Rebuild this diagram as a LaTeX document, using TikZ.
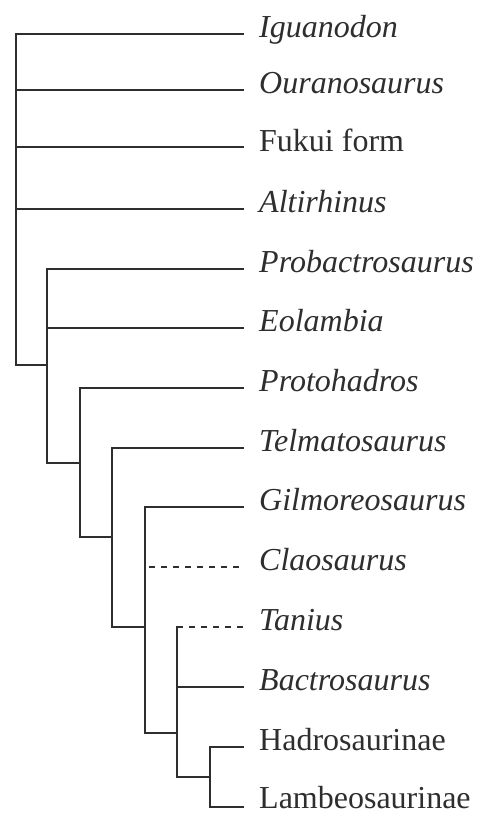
\documentclass[tikz,border=0pt]{standalone}
\usepackage{fontspec}
\setmainfont{Liberation Serif}
\definecolor{ink}{gray}{0.18}
\begin{document}
\begin{tikzpicture}[x=1pt,y=-1pt,
  branch/.style={draw=ink,line width=2.2pt,line join=miter,line cap=rect},
  uncertain/.style={draw=ink,line width=2.2pt,dash pattern=on 6pt off 6pt},
  taxon/.style={anchor=base west,inner sep=0pt,text=ink,font=\fontsize{32}{38}\selectfont},
  genus/.style={taxon,font=\fontsize{32}{38}\selectfont\itshape}]
\useasboundingbox[fill=white] (0,0) rectangle (480,814);
% tips
\coordinate (tIgu) at (243,34);
\coordinate (tOur) at (243,90);
\coordinate (tFuk) at (243,147);
\coordinate (tAlt) at (243,209);
\coordinate (tPrb) at (243,269);
\coordinate (tEol) at (243,328);
\coordinate (tPrt) at (243,388);
\coordinate (tTel) at (243,448);
\coordinate (tGil) at (243,507);
\coordinate (tCla) at (243,567);
\coordinate (tTan) at (243,627);
\coordinate (tBac) at (243,687);
\coordinate (tHad) at (243,747);
\coordinate (tLam) at (243,807);
% internal nodes
\coordinate (a1) at (16,365);  \coordinate (a2) at (47,365);
\coordinate (b1) at (47,463);  \coordinate (b2) at (80,463);
\coordinate (c1) at (80,537);  \coordinate (c2) at (112,537);
\coordinate (d1) at (112,627); \coordinate (d2) at (145,627);
\coordinate (e1) at (145,733); \coordinate (e2) at (177,733);
\coordinate (f0) at (177,627); \coordinate (f1) at (177,777); \coordinate (f2) at (210,777);
\coordinate (g1) at (210,807);
\coordinate (cs) at (149,567);
% labels
\node[genus] (Igu) at (259,37) {Iguanodon};
\node[genus] (Our) at (259,93) {Ouranosaurus};
\node[taxon] (Fuk) at (259,151) {Fukui form};
\node[genus] (Alt) at (259,212) {Altirhinus};
\node[genus] (Prb) at (259,272) {Probactrosaurus};
\node[genus] (Eol) at (259,331) {Eolambia};
\node[genus] (Prt) at (259,391) {Protohadros};
\node[genus] (Tel) at (259,451) {Telmatosaurus};
\node[genus] (Gil) at (259,510) {Gilmoreosaurus};
\node[genus] (Cla) at (259,570) {Claosaurus};
\node[genus] (Tan) at (259,630) {Tanius};
\node[genus] (Bac) at (259,690) {Bactrosaurus};
\node[taxon] (Had) at (259,750) {Hadrosaurinae};
\node[taxon] (Lam) at (259,808) {Lambeosaurinae};
% branches
\draw[branch] (tIgu) -| (a1) -- (a2);
\draw[branch] (tOur -| a1) -- (tOur);
\draw[branch] (tFuk -| a1) -- (tFuk);
\draw[branch] (tAlt -| a1) -- (tAlt);
\draw[branch] (tPrb) -| (b1) -- (b2);
\draw[branch] (tEol -| b1) -- (tEol);
\draw[branch] (tPrt) -| (c1) -- (c2);
\draw[branch] (tTel) -| (d1) -- (d2);
\draw[branch] (tGil) -| (e1) -- (e2);
\draw[uncertain] (cs) -- (tCla);
\draw[branch] (f0) -- (f1) -- (f2);
\draw[uncertain] (f0) -- (tTan);
\draw[branch] (tBac -| f0) -- (tBac);
\draw[branch] (tHad) -| (g1) -- (tLam);
\end{tikzpicture}
\end{document}
